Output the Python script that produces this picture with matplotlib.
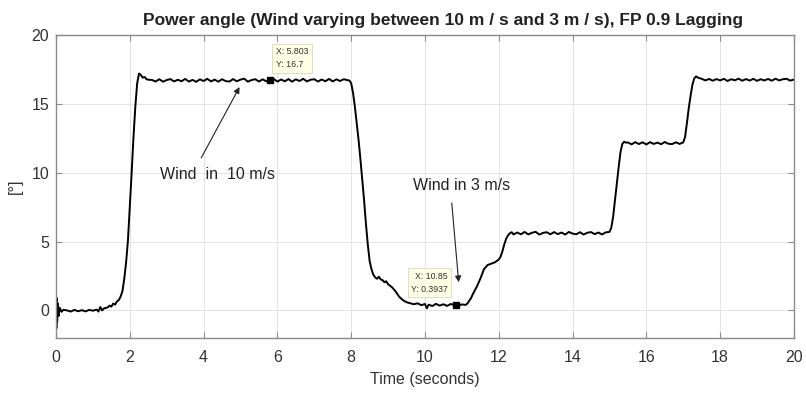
import numpy as np
import matplotlib
matplotlib.use("Agg")
import matplotlib.pyplot as plt

# Ángulo de potencia simulado (tiempo en s, ángulo en grados)
time_s = [
    0.00, 0.01, 0.02, 0.03, 0.05, 0.07, 0.10, 0.15, 0.20, 0.30, 0.40, 0.50,
    0.60, 0.70, 0.80, 0.90, 1.00, 1.10, 1.15, 1.20, 1.25, 1.30, 1.40, 1.45,
    1.50, 1.55, 1.60, 1.65, 1.70, 1.75, 1.80, 1.85, 1.90, 1.95, 2.00, 2.05,
    2.10, 2.15, 2.20, 2.25, 2.30, 2.35, 2.40, 2.45, 2.50,
    2.6, 2.7, 2.8, 2.9, 3.0, 3.1, 3.2, 3.3, 3.4, 3.5, 3.6, 3.7, 3.8, 3.9,
    4.0, 4.1, 4.2, 4.3, 4.4, 4.5, 4.6, 4.7, 4.8, 4.9, 5.0, 5.1, 5.2, 5.3,
    5.4, 5.5, 5.6, 5.7, 5.8, 5.9, 6.0, 6.1, 6.2, 6.3, 6.4, 6.5, 6.6, 6.7,
    6.8, 6.9, 7.0, 7.1, 7.2, 7.3, 7.4, 7.5, 7.6, 7.7, 7.8, 7.9,
    7.95, 8.00, 8.05, 8.10, 8.15, 8.20, 8.25, 8.30, 8.35, 8.40, 8.45, 8.50,
    8.55, 8.60, 8.65, 8.70, 8.75, 8.80, 8.85, 8.90, 8.95, 9.00, 9.10, 9.20,
    9.30, 9.40, 9.50, 9.60, 9.70, 9.80, 9.90, 10.0, 10.05, 10.1, 10.2, 10.3,
    10.4, 10.5, 10.6, 10.7, 10.8, 10.85, 10.9, 11.0, 11.1,
    11.15, 11.20, 11.25, 11.30, 11.40, 11.50, 11.60, 11.70, 11.80, 11.90,
    12.00, 12.05, 12.10, 12.15, 12.20, 12.25, 12.30, 12.35, 12.40,
    12.5, 12.6, 12.7, 12.8, 12.9, 13.0, 13.1, 13.2, 13.3, 13.4, 13.5, 13.6,
    13.7, 13.8, 13.9, 14.0, 14.1, 14.2, 14.3, 14.4, 14.5, 14.6, 14.7, 14.8,
    14.9, 15.00, 15.05, 15.10, 15.15, 15.20, 15.25, 15.30, 15.35, 15.40, 15.45,
    15.5, 15.6, 15.7, 15.8, 15.9, 16.0, 16.1, 16.2, 16.3, 16.4, 16.5, 16.6,
    16.7, 16.8, 16.9, 17.00, 17.05, 17.10, 17.15, 17.20, 17.25, 17.30, 17.35,
    17.40, 17.5, 17.6, 17.7, 17.8, 17.9, 18.0, 18.1, 18.2, 18.3, 18.4, 18.5,
    18.6, 18.7, 18.8, 18.9, 19.0, 19.1, 19.2, 19.3, 19.4, 19.5, 19.6, 19.7,
    19.8, 19.9, 20.0,
]
angle_deg = [
    0.40, -1.30, 0.90, -0.80, 0.50, -0.40, 0.20, -0.10, 0.05, 0.00, -0.08, 0.04,
    -0.06, 0.02, -0.07, 0.04, -0.02, 0.06, -0.08, 0.25, 0.00, 0.15, 0.22, 0.35,
    0.28, 0.50, 0.42, 0.65, 0.75, 1.00, 1.40, 2.30, 3.50, 5.10, 7.50, 10.0,
    12.6, 14.8, 16.5, 17.2, 17.1, 16.9, 16.95, 16.8, 16.75,
    16.74, 16.62, 16.79, 16.61, 16.73, 16.80, 16.63, 16.75, 16.64, 16.81, 16.62, 16.74, 16.60, 16.78,
    16.66, 16.82, 16.63, 16.76, 16.61, 16.79, 16.65, 16.62, 16.80, 16.64, 16.76, 16.83, 16.61, 16.73,
    16.79, 16.62, 16.78, 16.64, 16.70, 16.81, 16.62, 16.77, 16.64, 16.80, 16.61, 16.78, 16.66, 16.82,
    16.63, 16.75, 16.79, 16.62, 16.77, 16.64, 16.81, 16.63, 16.78, 16.66, 16.79, 16.72,
    16.70, 16.50, 15.80, 14.80, 13.60, 12.40, 11.00, 9.50, 8.00, 6.30, 4.80, 3.60,
    3.00, 2.60, 2.40, 2.30, 2.45, 2.25, 2.20, 2.05, 2.12, 1.90, 1.70, 1.40,
    1.00, 0.75, 0.60, 0.52, 0.45, 0.52, 0.38, 0.47, 0.15, 0.42, 0.32, 0.48,
    0.35, 0.45, 0.33, 0.47, 0.38, 0.39, 0.34, 0.44, 0.40,
    0.50, 0.70, 0.90, 1.20, 1.70, 2.30, 3.00, 3.30, 3.40, 3.50,
    3.70, 3.90, 4.30, 4.80, 5.20, 5.45, 5.60, 5.68, 5.52,
    5.66, 5.53, 5.70, 5.52, 5.64, 5.71, 5.51, 5.63, 5.68, 5.53, 5.69, 5.54,
    5.66, 5.51, 5.70, 5.58, 5.53, 5.68, 5.51, 5.64, 5.69, 5.54, 5.66, 5.52,
    5.67, 5.70, 6.00, 6.80, 8.00, 9.20, 10.4, 11.5, 12.1, 12.25, 12.18,
    12.20, 12.06, 12.22, 12.08, 12.21, 12.05, 12.22, 12.09, 12.19, 12.07, 12.23, 12.10,
    12.08, 12.21, 12.09, 12.20, 12.60, 13.60, 14.70, 15.60, 16.40, 16.85, 17.00,
    16.90, 16.82, 16.70, 16.81, 16.68, 16.80, 16.70, 16.82, 16.66, 16.79, 16.71, 16.83,
    16.68, 16.80, 16.69, 16.82, 16.67, 16.79, 16.70, 16.81, 16.68, 16.83, 16.70, 16.79,
    16.82, 16.69, 16.76,
]

# Data tips (valores mostrados en las cajas)
tip_x = [5.803, 10.85]
tip_y = [16.7, 0.3937]
tip_text = ["X: 5.803\nY: 16.7", "X: 10.85\nY: 0.3937"]

plt.rcParams["font.family"] = ["Liberation Sans", "DejaVu Sans"]

fig = plt.figure(figsize=(8.06, 3.96), dpi=100)
ax = fig.add_axes([0.0695, 0.1465, 0.9155, 0.7651])

ax.plot(time_s, angle_deg, color="black", lw=1.4)

ax.set_xlim(0, 20)
ax.set_ylim(-2, 20)
ax.set_xticks(np.arange(0, 21, 2))
ax.set_yticks([0, 5, 10, 15, 20])
ax.grid(True, color="#e3e3e3", lw=0.7)
ax.set_axisbelow(True)
for sp in ax.spines.values():
    sp.set_color("#8a8a8a")
    sp.set_linewidth(1.0)
ax.tick_params(direction="in", length=4, width=0.8, color="#8a8a8a",
               labelsize=11.5, labelcolor="#333333", top=True, right=True)
ax.tick_params(axis="x", pad=9)
ax.tick_params(axis="y", pad=5)

ax.set_title("Power angle (Wind varying between 10 m / s and 3 m / s), FP 0.9 Lagging",
             fontsize=12.5, fontweight="bold", color="#222222", pad=7, x=0.524)
ax.set_xlabel("Time (seconds)", fontsize=11.5, color="#333333", labelpad=5)
ax.set_ylabel("[°]", fontsize=11.5, color="#333333", labelpad=6)

# marcadores de los data tips
ax.plot(tip_x, tip_y, "s", color="black", ms=4)
ax.annotate(tip_text[0], xy=(tip_x[0], tip_y[0]), xytext=(4, 8),
            textcoords="offset points", ha="left", va="bottom",
            fontsize=6.3, color="#333333", linespacing=1.6,
            bbox=dict(boxstyle="square,pad=0.4", fc="#ffffe6", ec="#d8d8c0", lw=0.6))
ax.annotate(tip_text[1], xy=(tip_x[1], tip_y[1]), xytext=(-6, 8),
            textcoords="offset points", ha="right", va="bottom",
            fontsize=6.3, color="#333333", linespacing=1.6,
            bbox=dict(boxstyle="square,pad=0.4", fc="#ffffe6", ec="#d8d8c0", lw=0.6))

# flechas explicativas
ax.annotate("", xy=(5.01, 16.4), xytext=(3.9, 10.9),
            arrowprops=dict(arrowstyle="-|>", color="#222222", lw=0.8, mutation_scale=9))
ax.text(4.37, 9.9, "Wind  in  10 m/s", ha="center", va="center", fontsize=11.5, color="#222222")
ax.annotate("", xy=(10.92, 1.85), xytext=(10.72, 8.0),
            arrowprops=dict(arrowstyle="-|>", color="#222222", lw=0.8, mutation_scale=9))
ax.text(10.98, 9.05, "Wind in 3 m/s", ha="center", va="center", fontsize=11.5, color="#222222")

fig.savefig("out.png", dpi=100)
